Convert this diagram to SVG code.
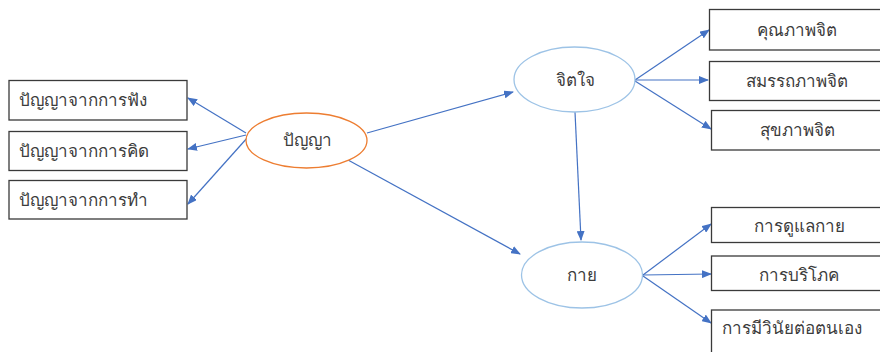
<svg xmlns="http://www.w3.org/2000/svg" width="880" height="352" viewBox="0 0 880 352">
<defs>
<marker id="ah" markerWidth="10" markerHeight="8" refX="9" refY="4" orient="auto" markerUnits="userSpaceOnUse">
<path d="M0,0 L10,4 L0,8 z" fill="#4472C4"/>
</marker>
<style>
.box{fill:#fff;stroke:#3a3a3a;stroke-width:1.3}
.t{font-family:"Noto Sans","Liberation Sans",sans-serif;font-size:17px;fill:#3c3c3c}
.c{stroke:#4472C4;stroke-width:1.2;fill:none;marker-end:url(#ah)}
.ell{fill:#fff;stroke-width:1.3}
</style>
</defs>
<rect width="880" height="352" fill="#fff"/>
<g id="connectors">
<line class="c" x1="246" y1="133" x2="188" y2="98"/>
<line class="c" x1="246" y1="135" x2="188" y2="149"/>
<line class="c" x1="248" y1="137" x2="188" y2="204"/>
<line class="c" x1="367" y1="133" x2="513" y2="92"/>
<line class="c" x1="348" y1="160" x2="520" y2="254"/>
<line class="c" x1="575" y1="112" x2="581" y2="240"/>
<line class="c" x1="635" y1="80" x2="709" y2="30"/>
<line class="c" x1="635" y1="80" x2="708" y2="80"/>
<line class="c" x1="635" y1="81" x2="711" y2="129"/>
<line class="c" x1="643" y1="275" x2="711" y2="224"/>
<line class="c" x1="643" y1="275" x2="711" y2="274"/>
<line class="c" x1="643" y1="276" x2="711" y2="323"/>
</g>
<g id="n-fang"><rect class="box" x="9" y="80.5" width="178" height="39.5"/><text class="t" x="19" y="106">ปัญญาจากการฟัง</text></g>
<g id="n-kid"><rect class="box" x="9" y="131.5" width="178" height="39"/><text class="t" x="19" y="157">ปัญญาจากการคิด</text></g>
<g id="n-tham"><rect class="box" x="9" y="180.5" width="178" height="38.5"/><text class="t" x="19" y="206">ปัญญาจากการทำ</text></g>
<g id="n-panya"><ellipse class="ell" cx="306.5" cy="140.5" rx="60.5" ry="27.5" stroke="#ED7D31"/><text class="t" x="307" y="146" text-anchor="middle">ปัญญา</text></g>
<g id="n-jitjai"><ellipse class="ell" cx="574.5" cy="79.5" rx="60.5" ry="32.5" stroke="#9DC3E6"/><text class="t" x="575" y="86" text-anchor="middle">จิตใจ</text></g>
<g id="n-kai"><ellipse class="ell" cx="582" cy="275" rx="60.5" ry="33" stroke="#9DC3E6"/><text class="t" x="582" y="281" text-anchor="middle">กาย</text></g>
<g id="n-khunnaphap"><rect class="box" x="709.5" y="9.5" width="180" height="40.5"/><text class="t" x="797" y="36" text-anchor="middle">คุณภาพจิต</text></g>
<g id="n-samattha"><rect class="box" x="709.5" y="61.5" width="180" height="39"/><text class="t" x="797" y="87" text-anchor="middle">สมรรถภาพจิต</text></g>
<g id="n-sukha"><rect class="box" x="711.5" y="110.5" width="180" height="39.5"/><text class="t" x="797" y="136" text-anchor="middle">สุขภาพจิต</text></g>
<g id="n-dulae"><rect class="box" x="711.5" y="207.5" width="180" height="35"/><text class="t" x="799" y="232" text-anchor="middle">การดูแลกาย</text></g>
<g id="n-boriphok"><rect class="box" x="711.5" y="256" width="180" height="34.5"/><text class="t" x="799" y="281" text-anchor="middle">การบริโภค</text></g>
<g id="n-winai"><rect class="box" x="711.5" y="310" width="180" height="50"/><text class="t" x="722" y="334">การมีวินัยต่อตนเอง</text></g>
</svg>
